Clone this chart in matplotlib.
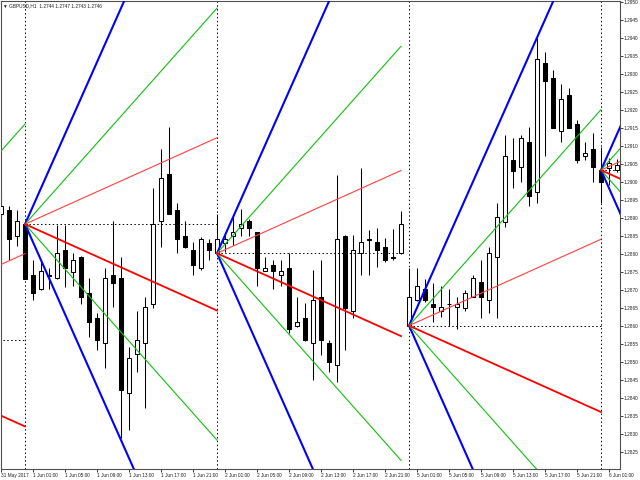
import matplotlib
matplotlib.use('Agg')
import matplotlib.pyplot as plt
import numpy as np

plt.rcParams['font.family'] = ['Liberation Sans', 'DejaVu Sans']

# ---- candle data (GBPUSD H1), first bar = 31 May 21:00 (bar index -3, 1 Jun 00:00 = 0)
first_bar = -3
opens = [1.28911, 1.28922, 1.28850,
         1.28883, 1.28742, 1.28703, 1.28742, 1.28733, 1.28811, 1.28751, 1.28792, 1.28692, 1.28622, 1.28553, 1.28742,
         1.28733, 1.28414, 1.28522, 1.28553, 1.28661, 1.28892, 1.29022, 1.28922, 1.28851, 1.28811, 1.28761, 1.28831,
         1.28802, 1.28830, 1.28851, 1.28871, 1.28892, 1.28860, 1.28753, 1.28770, 1.28742, 1.28760, 1.28601, 1.28623,
         1.28552, 1.28681, 1.28552, 1.28492, 1.28851, 1.28642, 1.28802, 1.28841, 1.28833, 1.28820, 1.28791, 1.28802,
         1.28601, 1.28672, 1.28702, 1.28660, 1.28642, 1.28660, 1.28652, 1.28651, 1.28681, 1.28721, 1.28672, 1.28791,
         1.28890, 1.29061, 1.29042, 1.29110, 1.28971, 1.29331, 1.29290, 1.29142, 1.29242, 1.29160, 1.29072, 1.29092,
         1.29033, 1.29039, 1.29033]
highs = [1.28961, 1.28933, 1.28922,
         1.28883, 1.28783, 1.28781, 1.28761, 1.28881, 1.28881, 1.28803, 1.28794, 1.28733, 1.28636, 1.28761, 1.28893,
         1.28793, 1.28543, 1.28643, 1.28681, 1.28983, 1.29092, 1.29153, 1.28942, 1.28892, 1.28834, 1.28848, 1.28842,
         1.28911, 1.28862, 1.28908, 1.28924, 1.28897, 1.28862, 1.28793, 1.28783, 1.28783, 1.28802, 1.28681, 1.28663,
         1.28756, 1.28783, 1.28561, 1.29019, 1.28853, 1.28853, 1.29039, 1.28867, 1.28871, 1.28845, 1.28869, 1.28920,
         1.28760, 1.28760, 1.28731, 1.28719, 1.28711, 1.28702, 1.28681, 1.28700, 1.28742, 1.28783, 1.28820, 1.28942,
         1.29131, 1.29121, 1.29131, 1.29152, 1.29399, 1.29360, 1.29311, 1.29271, 1.29260, 1.29172, 1.29112, 1.29137,
         1.29098, 1.29067, 1.29064]
lows = [1.28764, 1.28783, 1.28822,
        1.28730, 1.28672, 1.28700, 1.28703, 1.28731, 1.28708, 1.28711, 1.28661, 1.28569, 1.28533, 1.28483, 1.28653,
        1.28289, 1.28311, 1.28473, 1.28372, 1.28651, 1.28820, 1.28910, 1.28803, 1.28818, 1.28742, 1.28756, 1.28783,
        1.28800, 1.28806, 1.28825, 1.28850, 1.28850, 1.28711, 1.28752, 1.28702, 1.28711, 1.28580, 1.28597, 1.28558,
        1.28450, 1.28519, 1.28473, 1.28444, 1.28533, 1.28621, 1.28742, 1.28742, 1.28763, 1.28778, 1.28783, 1.28800,
        1.28600, 1.28669, 1.28667, 1.28612, 1.28626, 1.28601, 1.28591, 1.28642, 1.28680, 1.28621, 1.28635, 1.28621,
        1.28876, 1.28983, 1.29001, 1.28933, 1.28942, 1.29072, 1.29150, 1.29110, 1.29150, 1.29052, 1.29061, 1.29001,
        1.28942, 1.28992, 1.29028]
closes = [1.28933, 1.28842, 1.28892,
          1.28731, 1.28692, 1.28753, 1.28740, 1.28803, 1.28761, 1.28783, 1.28681, 1.28611, 1.28561, 1.28733, 1.28720,
          1.28422, 1.28511, 1.28561, 1.28653, 1.28883, 1.29011, 1.28911, 1.28842, 1.28820, 1.28769, 1.28842, 1.28811,
          1.28841, 1.28841, 1.28861, 1.28883, 1.28871, 1.28762, 1.28761, 1.28753, 1.28753, 1.28592, 1.28610, 1.28561,
          1.28672, 1.28561, 1.28501, 1.28841, 1.28651, 1.28811, 1.28833, 1.28840, 1.28811, 1.28783, 1.28790, 1.28883,
          1.28681, 1.28711, 1.28672, 1.28652, 1.28652, 1.28661, 1.28660, 1.28691, 1.28733, 1.28681, 1.28802, 1.28902,
          1.29072, 1.29031, 1.29121, 1.28962, 1.29341, 1.29281, 1.29151, 1.29230, 1.29151, 1.29061, 1.29080, 1.29043,
          1.29001, 1.29053, 1.29047]

# ---- daily Gann-fan data
day_start_bars = [0, 24, 48, 72]
fan_start = [-24, 0, 24, 48, 72]
fan_end = [0, 24, 47, 72, 96]
fan_open = [1.28561, 1.28883, 1.28802, 1.28601, 1.29033]
slope_blue = 0.0005
slope_green = 0.00025
slope_red = 0.0001

# ---- axis labels
xtick_bars = [-3, 1, 5, 9, 13, 17, 21, 25, 29, 33, 37, 41, 45, 49, 53, 57, 61, 65, 69, 73]
xtick_labels = ['31 May 2017', '1 Jun 01:00', '1 Jun 05:00', '1 Jun 09:00', '1 Jun 13:00',
                '1 Jun 17:00', '1 Jun 21:00', '2 Jun 01:00', '2 Jun 05:00', '2 Jun 09:00',
                '2 Jun 13:00', '2 Jun 17:00', '2 Jun 21:00', '5 Jun 01:00', '5 Jun 05:00',
                '5 Jun 09:00', '5 Jun 13:00', '5 Jun 17:00', '5 Jun 21:00', '6 Jun 01:00']
ytick_values = [1.2825, 1.2830, 1.2835, 1.2840, 1.2845, 1.2850, 1.2855, 1.2860, 1.2865, 1.2870,
                1.2875, 1.2880, 1.2885, 1.2890, 1.2895, 1.2900, 1.2905, 1.2910, 1.2915, 1.2920,
                1.2925, 1.2930, 1.2935, 1.2940, 1.2945, 1.2950]
ytick_labels = ['1.2825', '1.2830', '1.2835', '1.2840', '1.2845', '1.2850', '1.2855', '1.2860',
                '1.2865', '1.2870', '1.2875', '1.2880', '1.2885', '1.2890', '1.2895', '1.2900',
                '1.2905', '1.2910', '1.2915', '1.2920', '1.2925', '1.2930', '1.2935', '1.2940',
                '1.2945', '1.2950']
title_text = '\u25BC GBPUSD,H1  1.2744 1.2747 1.2743 1.2746'

fig = plt.figure(figsize=(6.4, 4.8), dpi=100)
ax = fig.add_axes([1 / 640, 1 - 469 / 480, 619 / 640, 468 / 480])
ax.set_xlim(-3, 74.375)
ax.set_ylim(1.282028, 1.295028)

o = np.array(opens); h = np.array(highs); l = np.array(lows); c = np.array(closes)
x = np.arange(len(o)) + first_bar
bull = c >= o

ax.vlines(x, l, h, color='black', lw=0.75, zorder=2)
bottom = np.minimum(o, c)
height = np.maximum(np.abs(c - o), 0.000005)
ax.bar(x, height, bottom=bottom, width=0.62,
       color=np.where(bull, 'white', 'black'), edgecolor='black', lw=0.75, zorder=3)

# day separators
for d in day_start_bars:
    ax.axvline(d, color='black', lw=0.7, ls=(0, (1.5, 2.5)), zorder=1)

# fans
for s, e, p in zip(fan_start, fan_end, fan_open):
    n = e - s
    xs = [s, e]
    ax.plot(xs, [p, p], color='black', lw=0.7, ls=(0, (1.5, 2.5)), zorder=4)
    ax.plot(xs, [p, p + slope_blue * n], color='#0000FF', lw=1.5, zorder=5, solid_capstyle='butt')
    ax.plot(xs, [p, p - slope_blue * n], color='#0000FF', lw=1.5, zorder=5, solid_capstyle='butt')
    ax.plot(xs, [p, p + slope_green * n], color='#10C010', lw=0.8, zorder=5)
    ax.plot(xs, [p, p - slope_green * n], color='#10C010', lw=0.8, zorder=5)
    ax.plot(xs, [p, p + slope_red * n], color='#FF4040', lw=0.8, zorder=5)
    ax.plot(xs, [p, p - slope_red * n], color='#FF0000', lw=1.3, zorder=5)

for sp in ax.spines.values():
    sp.set_color('#505050')
    sp.set_linewidth(0.8)

ax.yaxis.tick_right()
ax.set_yticks(ytick_values)
ax.set_yticklabels(ytick_labels)
ax.tick_params(axis='y', direction='out', length=2, width=0.6, pad=0.8,
               labelsize=3.4, colors='#202020')
ax.set_xticks(xtick_bars)
ax.set_xticklabels(xtick_labels)
ax.tick_params(axis='x', direction='out', length=2, width=0.6, pad=1,
               labelsize=3.4, colors='#202020')
for lbl in ax.get_xticklabels():
    lbl.set_horizontalalignment('left')

fig.text(3 / 640, 1 - 6 / 480, title_text, ha='left', va='center', fontsize=3.4, color='#202020')

fig.savefig('out.png', dpi=100)
